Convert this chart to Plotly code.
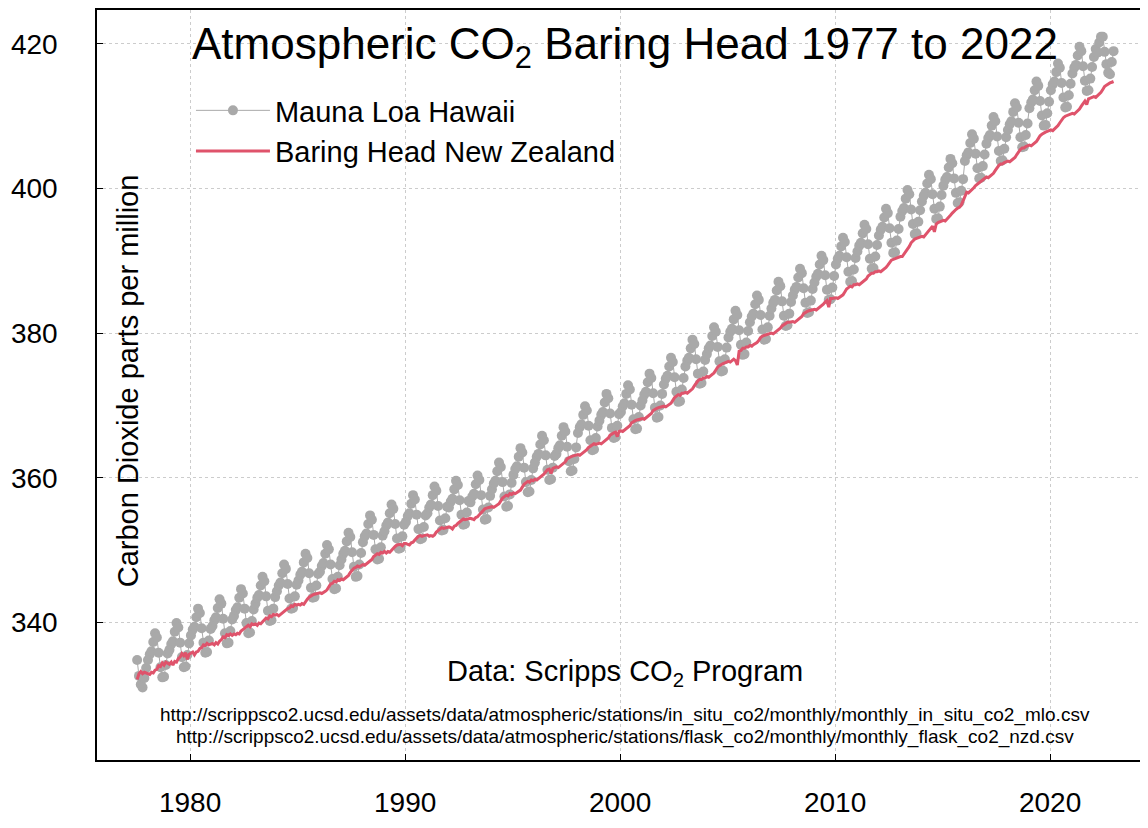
import pandas as pd
import plotly.graph_objects as go

# monthly dates, Jul 1977 .. Dec 2022 (mid-month)
months = pd.date_range("1977-07-01", "2022-12-01", freq="MS") + pd.Timedelta(days=14)

# Mauna Loa Hawaii, monthly ppm
mauna_loa = [
    334.8, 332.6, 331.4, 331.0, 332.3, 333.7,
    334.8, 335.6, 336.0, 337.3, 338.5, 337.9, 335.8, 333.8, 332.4, 332.5, 334.1, 335.7,
    336.2, 337.0, 337.4, 338.7, 339.9, 339.3, 337.2, 335.2, 333.8, 333.9, 335.5, 337.1,
    338.2, 339.0, 339.4, 340.7, 341.9, 341.3, 339.2, 337.2, 335.8, 335.9, 337.5, 339.1,
    339.5, 340.3, 340.7, 342.0, 343.2, 342.6, 340.5, 338.5, 337.1, 337.2, 338.8, 340.4,
    340.9, 341.7, 342.1, 343.4, 344.6, 344.0, 341.9, 339.9, 338.5, 338.6, 340.2, 341.8,
    342.6, 343.4, 343.8, 345.1, 346.3, 345.7, 343.6, 341.6, 340.2, 340.3, 341.9, 343.5,
    344.3, 345.1, 345.5, 346.8, 348.0, 347.4, 345.3, 343.3, 341.9, 342.0, 343.6, 345.2,
    345.8, 346.6, 347.0, 348.3, 349.5, 348.9, 346.8, 344.8, 343.4, 343.5, 345.1, 346.7,
    347.0, 347.8, 348.2, 349.5, 350.7, 350.1, 348.0, 346.0, 344.6, 344.7, 346.3, 347.9,
    348.7, 349.5, 349.9, 351.2, 352.4, 351.8, 349.7, 347.7, 346.3, 346.4, 348.0, 349.6,
    351.1, 351.9, 352.3, 353.6, 354.8, 354.2, 352.1, 350.1, 348.7, 348.8, 350.4, 352.0,
    352.6, 353.4, 353.8, 355.1, 356.3, 355.7, 353.6, 351.6, 350.2, 350.3, 351.9, 353.5,
    353.9, 354.7, 355.1, 356.4, 357.6, 357.0, 354.9, 352.9, 351.5, 351.6, 353.2, 354.8,
    355.1, 355.9, 356.3, 357.6, 358.8, 358.2, 356.1, 354.1, 352.7, 352.8, 354.4, 356.0,
    355.9, 356.7, 357.1, 358.4, 359.6, 359.0, 356.9, 354.9, 353.5, 353.6, 355.2, 356.8,
    356.6, 357.4, 357.8, 359.1, 360.3, 359.7, 357.6, 355.6, 354.2, 354.3, 355.9, 357.5,
    358.4, 359.2, 359.6, 360.9, 362.1, 361.5, 359.4, 357.4, 356.0, 356.1, 357.7, 359.3,
    360.4, 361.2, 361.6, 362.9, 364.1, 363.5, 361.4, 359.4, 358.0, 358.1, 359.7, 361.3,
    362.1, 362.9, 363.3, 364.6, 365.8, 365.2, 363.1, 361.1, 359.7, 359.8, 361.4, 363.0,
    363.3, 364.1, 364.5, 365.8, 367.0, 366.4, 364.3, 362.3, 360.9, 361.0, 362.6, 364.2,
    366.2, 367.0, 367.4, 368.7, 369.9, 369.3, 367.2, 365.2, 363.8, 363.9, 365.5, 367.1,
    367.9, 368.7, 369.1, 370.4, 371.6, 371.0, 368.9, 366.9, 365.5, 365.6, 367.2, 368.8,
    369.1, 369.9, 370.3, 371.6, 372.8, 372.2, 370.1, 368.1, 366.7, 366.8, 368.4, 370.0,
    370.7, 371.5, 371.9, 373.2, 374.4, 373.8, 371.7, 369.7, 368.3, 368.4, 370.0, 371.6,
    372.9, 373.7, 374.1, 375.4, 376.6, 376.0, 373.9, 371.9, 370.5, 370.6, 372.2, 373.8,
    375.4, 376.2, 376.6, 377.9, 379.1, 378.5, 376.4, 374.4, 373.0, 373.1, 374.7, 376.3,
    377.1, 377.9, 378.3, 379.6, 380.8, 380.2, 378.1, 376.1, 374.7, 374.8, 376.4, 378.0,
    379.4, 380.2, 380.6, 381.9, 383.1, 382.5, 380.4, 378.4, 377.0, 377.1, 378.7, 380.3,
    381.5, 382.3, 382.7, 384.0, 385.2, 384.6, 382.5, 380.5, 379.1, 379.2, 380.8, 382.4,
    383.4, 384.2, 384.6, 385.9, 387.1, 386.5, 384.4, 382.4, 381.0, 381.1, 382.7, 384.3,
    385.2, 386.0, 386.4, 387.7, 388.9, 388.3, 386.2, 384.2, 382.8, 382.9, 384.5, 386.1,
    387.0, 387.8, 388.2, 389.5, 390.7, 390.1, 388.0, 386.0, 384.6, 384.7, 386.3, 387.9,
    389.5, 390.3, 390.7, 392.0, 393.2, 392.6, 390.5, 388.5, 387.1, 387.2, 388.8, 390.4,
    391.3, 392.1, 392.5, 393.8, 395.0, 394.4, 392.3, 390.3, 388.9, 389.0, 390.6, 392.2,
    393.5, 394.3, 394.7, 396.0, 397.2, 396.6, 394.5, 392.5, 391.1, 391.2, 392.8, 394.4,
    396.1, 396.9, 397.3, 398.6, 399.8, 399.2, 397.1, 395.1, 393.7, 393.8, 395.4, 397.0,
    398.2, 399.0, 399.4, 400.7, 401.9, 401.3, 399.2, 397.2, 395.8, 395.9, 397.5, 399.1,
    400.4, 401.2, 401.6, 402.9, 404.1, 403.5, 401.4, 399.4, 398.0, 398.1, 399.7, 401.3,
    403.8, 404.6, 405.0, 406.3, 407.5, 406.9, 404.8, 402.8, 401.4, 401.5, 403.1, 404.7,
    406.2, 407.0, 407.4, 408.7, 409.9, 409.3, 407.2, 405.2, 403.8, 403.9, 405.5, 407.1,
    408.1, 408.9, 409.3, 410.6, 411.8, 411.2, 409.1, 407.1, 405.7, 405.8, 407.4, 409.0,
    411.1, 411.9, 412.3, 413.6, 414.8, 414.2, 412.1, 410.1, 408.7, 408.8, 410.4, 412.0,
    413.6, 414.4, 414.8, 416.1, 417.3, 416.7, 414.6, 412.6, 411.2, 411.3, 412.9, 414.5,
    415.9, 416.7, 417.1, 418.4, 419.6, 419.0, 416.9, 414.9, 413.5, 413.6, 415.2, 416.8,
    418.2, 419.3, 418.8, 420.2, 421.0, 421.0, 418.9, 417.2, 416.0, 415.8, 417.5, 419.0,
]

# Baring Head New Zealand, monthly ppm
baring_head = [
    332.1, 332.9, 333.2, 332.9, 333.1, 333.0,
    333.0, 332.8, 333.1, 333.0, 333.4, 333.5, 334.0, 333.9, 334.4, 334.1, 334.5, 334.3,
    334.2, 334.5, 334.1, 334.6, 334.5, 335.0, 335.2, 335.7, 335.4, 335.8, 334.9, 335.6,
    335.7, 335.9, 335.5, 335.9, 336.0, 336.4, 336.5, 336.9, 336.8, 337.1, 336.9, 337.0,
    337.1, 336.9, 337.2, 337.0, 337.4, 337.6, 338.0, 337.9, 338.3, 338.2, 338.4, 338.2,
    338.4, 338.3, 338.5, 338.4, 338.8, 339.0, 339.2, 339.4, 339.6, 339.4, 339.8, 339.7,
    339.8, 339.6, 339.9, 339.8, 340.1, 340.3, 340.6, 340.5, 340.9, 340.8, 341.1, 341.0,
    341.1, 340.9, 341.1, 341.2, 341.4, 341.7, 341.9, 342.0, 342.3, 342.2, 342.5, 342.4,
    342.5, 342.4, 342.6, 342.5, 342.9, 343.2, 343.5, 343.7, 343.8, 343.9, 344.0, 344.0,
    344.1, 344.0, 344.2, 344.3, 344.5, 344.9, 345.3, 345.4, 345.7, 345.6, 345.9, 345.8,
    346.0, 345.9, 346.1, 346.3, 346.5, 346.9, 347.2, 347.5, 347.6, 347.8, 347.7, 347.9,
    348.0, 347.9, 348.1, 348.2, 348.4, 348.7, 349.1, 349.3, 349.5, 349.4, 349.7, 349.6,
    349.8, 349.6, 349.8, 349.7, 350.0, 350.2, 350.5, 350.7, 350.8, 350.8, 350.6, 350.9,
    350.9, 350.8, 350.7, 351.0, 351.1, 351.4, 351.7, 351.9, 352.0, 351.9, 352.0, 352.0,
    352.1, 351.9, 352.0, 351.9, 352.1, 352.5, 352.7, 352.9, 353.1, 353.0, 353.1, 353.1,
    353.2, 353.1, 352.9, 353.3, 353.4, 353.7, 353.9, 354.1, 354.3, 354.2, 354.3, 354.3,
    354.4, 354.3, 354.2, 354.5, 354.6, 354.9, 355.2, 355.5, 355.7, 355.8, 355.9, 355.9,
    356.0, 355.9, 356.1, 356.2, 356.4, 356.8, 357.2, 357.4, 357.6, 357.5, 357.8, 357.7,
    357.9, 357.8, 358.0, 358.1, 358.3, 358.7, 359.1, 359.3, 359.5, 359.4, 359.7, 359.6,
    359.8, 359.7, 359.9, 360.0, 360.2, 360.5, 360.8, 361.1, 361.2, 360.6, 361.3, 361.4,
    361.5, 361.4, 361.6, 361.7, 361.9, 362.2, 362.6, 362.8, 362.9, 363.0, 363.1, 363.1,
    363.2, 363.1, 363.3, 363.4, 363.6, 363.9, 364.2, 364.4, 364.5, 364.7, 364.6, 364.7,
    364.8, 364.7, 364.9, 365.0, 365.2, 365.5, 365.9, 366.1, 366.2, 366.3, 365.7, 366.4,
    366.5, 366.4, 366.6, 366.7, 366.9, 367.2, 367.6, 367.8, 367.9, 368.0, 368.1, 368.1,
    368.2, 368.1, 368.3, 368.4, 368.6, 368.9, 369.3, 369.5, 369.6, 369.7, 369.8, 369.8,
    369.9, 369.8, 370.0, 370.1, 370.3, 370.7, 371.1, 371.3, 371.5, 371.4, 371.7, 371.7,
    371.8, 371.7, 371.9, 372.1, 372.3, 372.7, 373.1, 373.4, 373.6, 373.6, 373.8, 373.8,
    374.0, 373.9, 374.1, 374.3, 374.5, 374.9, 375.3, 375.5, 375.7, 375.8, 375.9, 376.0,
    376.1, 376.0, 376.2, 376.4, 376.2, 375.6, 377.5, 377.6, 377.9, 377.9, 378.1, 378.1,
    378.3, 378.2, 378.4, 378.5, 378.7, 379.0, 379.4, 379.6, 379.7, 379.8, 379.9, 379.9,
    380.0, 379.9, 380.1, 380.2, 380.4, 380.7, 381.0, 381.2, 381.4, 381.5, 381.5, 381.6,
    381.6, 381.5, 381.7, 381.8, 382.0, 382.3, 382.7, 382.9, 383.0, 383.1, 383.2, 383.2,
    383.3, 383.2, 383.4, 383.5, 383.7, 384.0, 384.3, 384.5, 383.6, 384.8, 384.8, 384.9,
    384.9, 384.8, 385.0, 385.1, 385.3, 385.7, 386.1, 386.3, 386.5, 386.4, 386.7, 386.7,
    386.8, 386.7, 386.9, 387.0, 387.2, 387.5, 387.9, 388.1, 388.3, 388.3, 388.5, 388.5,
    388.6, 388.5, 388.7, 388.8, 389.1, 389.4, 389.8, 390.1, 390.2, 390.3, 390.5, 390.5,
    390.6, 390.6, 390.9, 391.2, 391.5, 392.0, 392.5, 392.8, 393.0, 393.1, 393.2, 393.3,
    393.4, 393.3, 393.6, 393.8, 394.1, 394.5, 394.8, 394.0, 395.1, 395.3, 395.4, 395.5,
    395.6, 395.5, 395.8, 396.0, 396.3, 396.6, 396.9, 397.1, 397.3, 397.4, 397.7, 398.3,
    399.0, 399.5, 399.4, 399.6, 399.8, 400.1, 400.4, 400.6, 400.9, 401.0, 401.2, 401.4,
    401.6, 401.5, 401.7, 401.9, 402.1, 402.5, 402.9, 403.2, 403.4, 403.4, 403.6, 403.7,
    403.8, 403.7, 403.9, 404.1, 404.3, 404.7, 405.1, 405.4, 405.6, 405.6, 405.8, 405.9,
    406.0, 405.9, 406.1, 406.3, 406.5, 406.9, 407.3, 407.5, 407.7, 407.8, 407.9, 408.0,
    408.1, 408.0, 408.2, 408.4, 408.7, 409.1, 409.5, 409.8, 410.0, 410.1, 410.2, 410.3,
    410.4, 410.3, 410.5, 410.7, 411.0, 411.4, 411.8, 412.1, 411.6, 412.4, 412.5, 412.6,
    412.7, 412.6, 412.8, 413.0, 413.3, 413.7, 414.1, 414.3, 414.5, 414.6, 414.7, 414.8,
]

y_ticks = [340, 360, 380, 400, 420]

font = "Liberation Sans, Arial, sans-serif"
fig = go.Figure()

fig.add_trace(go.Scatter(x=months, y=mauna_loa, name="Mauna Loa Hawaii",
                         mode="lines+markers",
                         line=dict(color="#A9A9A9", width=1),
                         marker=dict(color="#A9A9A9", size=10)))
fig.add_trace(go.Scatter(x=months, y=baring_head, name="Baring Head New Zealand",
                         mode="lines", line=dict(color="#DF536B", width=3)))

# page body adds 8px, so the figure is sized 1140x820
fig.update_layout(
    width=1140, height=820,
    margin=dict(l=89, r=0, t=0, b=68),
    plot_bgcolor="white", paper_bgcolor="white",
    font=dict(family=font, size=28, color="black"),
    showlegend=True,
    legend=dict(x=0.0894, y=0.9, xanchor="left", yanchor="top",
                bgcolor="rgba(0,0,0,0)", font=dict(size=29),
                tracegroupgap=0, itemwidth=74),
)

fig.update_xaxes(
    range=["1975-09-02", "2024-07-22"],
    tick0="1980-01-01", dtick="M120", tickformat="%Y",
    showline=True, linecolor="black", linewidth=1.5, mirror=True,
    ticks="inside", ticklen=6, tickcolor="black",
    showgrid=True, gridcolor="#CCCCCC", griddash="dot", gridwidth=1,
    zeroline=False, ticklabelstandoff=17,
)
fig.update_yaxes(
    range=[320.97, 424.69], tickvals=y_ticks,
    showline=True, linecolor="black", linewidth=1.5,
    ticks="inside", ticklen=6, tickcolor="black",
    showgrid=True, gridcolor="#CCCCCC", griddash="dot", gridwidth=1,
    zeroline=False, ticklabelstandoff=32,
)

fig.add_annotation(text="Atmospheric CO<sub>2</sub> Baring Head 1977 to 2022",
                   xref="paper", yref="paper", x=0.502, y=0.951,
                   xanchor="center", yanchor="middle", showarrow=False,
                   font=dict(size=44))
fig.add_annotation(text="Carbon Dioxide parts per million",
                   xref="paper", yref="paper", x=0.0295, y=0.505,
                   xanchor="center", yanchor="middle", showarrow=False,
                   textangle=-90, font=dict(size=29))
fig.add_annotation(text="Data: Scripps CO<sub>2</sub> Program",
                   xref="paper", yref="paper", x=0.502, y=0.1157,
                   xanchor="center", yanchor="middle", showarrow=False,
                   font=dict(size=29))
fig.add_annotation(text="http://scrippsco2.ucsd.edu/assets/data/atmospheric/stations/in_situ_co2/monthly/monthly_in_situ_co2_mlo.csv",
                   xref="paper", yref="paper", x=0.502, y=0.0598,
                   xanchor="center", yanchor="middle", showarrow=False,
                   font=dict(size=19))
fig.add_annotation(text="http://scrippsco2.ucsd.edu/assets/data/atmospheric/stations/flask_co2/monthly/monthly_flask_co2_nzd.csv",
                   xref="paper", yref="paper", x=0.502, y=0.0306,
                   xanchor="center", yanchor="middle", showarrow=False,
                   font=dict(size=19))

fig.write_html("out.html")
